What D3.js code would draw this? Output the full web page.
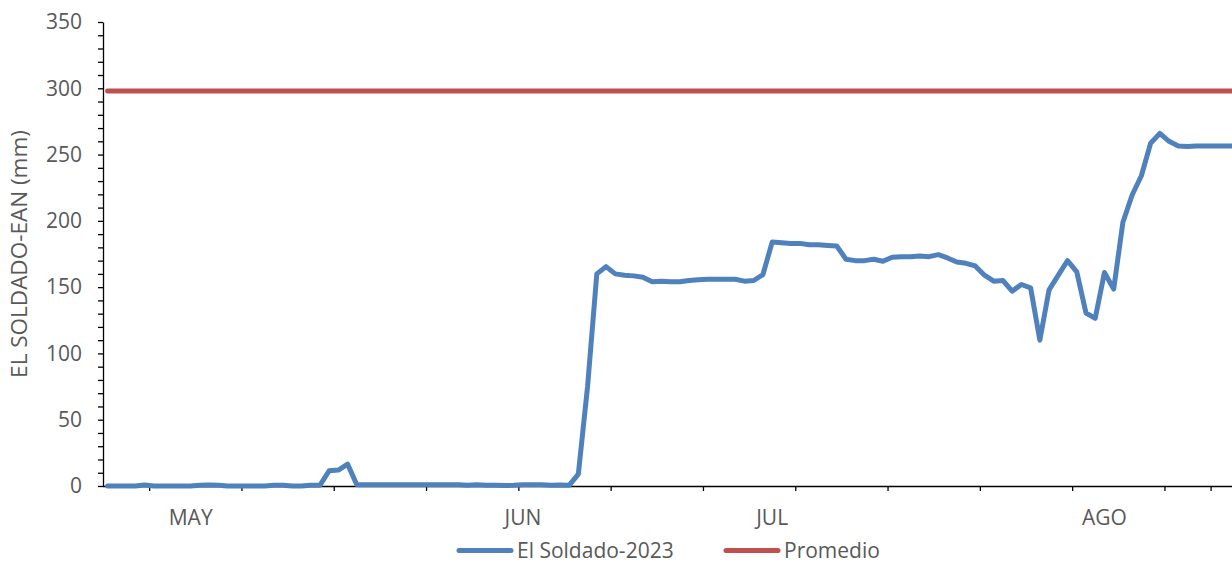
<!DOCTYPE html>
<html>
<head>
<meta charset="utf-8">
<script src="https://cdn.jsdelivr.net/npm/d3@7"></script>
<style>
    body { margin: 0; background: #fff; }
    svg { display: block; }
    .axis text { font-family: "Open Sans", sans-serif; font-size: 21px; fill: #595959; }
    .label { font-family: "Open Sans", sans-serif; font-size: 21px; fill: #595959; }
    .ytitle { font-size: 22.5px; }
</style>
</head>
<body>
<script>
(function () {

    //daily rainfall accumulation, El Soldado 2023 (mm), one value per day
    var soldado = [
        0, 0, 0, 0, 0.8, 0, 0, 0, 0, 0,
        0.5, 0.8, 0.5, 0, 0, 0, 0, 0, 0.5, 0.5,
        0, 0, 0.5, 0.5, 11.5, 12, 16.5, 1, 1, 1,
        1, 1, 1, 1, 1, 1, 1, 1, 1, 0.5,
        1, 0.5, 0.5, 0.3, 0.5, 1, 1, 1, 0.5, 0.8,
        0.5, 9, 75, 160, 165.5, 160, 159, 158.5, 157.5, 154,
        154.5, 154, 154, 155, 155.5, 156, 156, 156, 156, 154.5,
        155, 159.5, 184, 183.5, 183, 183, 182, 182, 181.5, 181,
        171, 170, 170, 171, 169.5, 172.5, 173, 173, 173.5, 173,
        174.5, 172, 169, 168, 166, 159, 154.5, 155, 147, 152,
        149.5, 110, 148, 159, 170, 161.5, 130.5, 126.5, 161, 148.5,
        199, 219.5, 234, 258.5, 266, 260, 256.5, 256, 256.5, 256.5,
        256.5, 256.5, 256.5
    ];
    var promedio = 298; //average, constant across the period

    //month labels (category index they sit on) and tick boundaries
    var monthNames = ["MAY", "JUN", "JUL", "AGO"];
    var monthIdx = [9, 45, 72, 108];
    var xTickBounds = [5, 15, 25, 35, 45, 55, 65, 75, 85, 95, 105, 115, 120];

    var seriesNames = ["El Soldado-2023", "Promedio"];
    var seriesColors = ["#4F81BD", "#C0504D"];

    var width = 1232,
        height = 562,
        left = 103,
        top = 22,
        bottom = 486,
        catW = 9.23;

    var n = soldado.length;

    var svg = d3.select("body")
        .append("svg")
        .attr("width", width)
        .attr("height", height);

    svg.append("rect")
        .attr("width", width)
        .attr("height", height)
        .attr("fill", "#fff");

    //x works in category units, category i is centred at i + 0.5
    var x = d3.scaleLinear()
        .domain([0, n])
        .range([left, left + n * catW]);

    var y = d3.scaleLinear()
        .domain([0, 350])
        .range([bottom, top]);

    //y axis with minor ticks every 10
    var yAxis = d3.axisLeft(y)
        .tickValues(d3.range(0, 351, 10))
        .tickSize(5)
        .tickSizeOuter(0)
        .tickPadding(16)
        .tickFormat(function (d) { return d % 50 === 0 ? d : ""; });

    var gy = svg.append("g")
        .attr("class", "axis")
        .attr("transform", "translate(" + left + ",0)")
        .call(yAxis);

    //x axis, ticks only
    var xAxis = d3.axisBottom(x)
        .tickValues(xTickBounds)
        .tickSize(5)
        .tickSizeOuter(0)
        .tickFormat("");

    var gx = svg.append("g")
        .attr("class", "axis")
        .attr("transform", "translate(0," + bottom + ")")
        .call(xAxis);

    gx.select(".domain").attr("d", "M" + left + ",0.5H" + width);

    svg.selectAll(".axis path, .axis line")
        .attr("stroke", "#000")
        .attr("stroke-width", 1.3);

    //month labels
    svg.selectAll(".month")
        .data(monthNames)
        .enter()
        .append("text")
        .attr("class", "label month")
        .attr("x", function (d, i) { return x(monthIdx[i] + 0.5); })
        .attr("y", 525)
        .attr("text-anchor", "middle")
        .text(function (d) { return d; });

    //y axis title
    svg.append("text")
        .attr("class", "label ytitle")
        .attr("transform", "translate(27," + (top + bottom) / 2 + ") rotate(-90)")
        .attr("text-anchor", "middle")
        .text("EL SOLDADO-EAN (mm)");

    var line = d3.line()
        .x(function (d, i) { return x(i + 0.5); })
        .y(function (d) { return y(d); });

    svg.append("path")
        .datum(soldado.map(function () { return promedio; }))
        .attr("fill", "none")
        .attr("stroke", seriesColors[1])
        .attr("stroke-width", 5)
        .attr("stroke-linecap", "round")
        .attr("d", line);

    svg.append("path")
        .datum(soldado)
        .attr("fill", "none")
        .attr("stroke", seriesColors[0])
        .attr("stroke-width", 5)
        .attr("stroke-linejoin", "round")
        .attr("stroke-linecap", "round")
        .attr("d", line);

    //legend
    var legendX = [459, 726],
        legendY = 550.5;

    var legend = svg.selectAll(".legend")
        .data(seriesNames)
        .enter()
        .append("g")
        .attr("class", "legend")
        .attr("transform", function (d, i) { return "translate(" + legendX[i] + "," + legendY + ")"; });

    legend.append("line")
        .attr("x1", 0)
        .attr("x2", 52)
        .attr("stroke", function (d, i) { return seriesColors[i]; })
        .attr("stroke-width", 5)
        .attr("stroke-linecap", "round");

    legend.append("text")
        .attr("class", "label")
        .attr("x", 58)
        .attr("y", 7)
        .text(function (d) { return d; });
})();
</script>
</body>
</html>
